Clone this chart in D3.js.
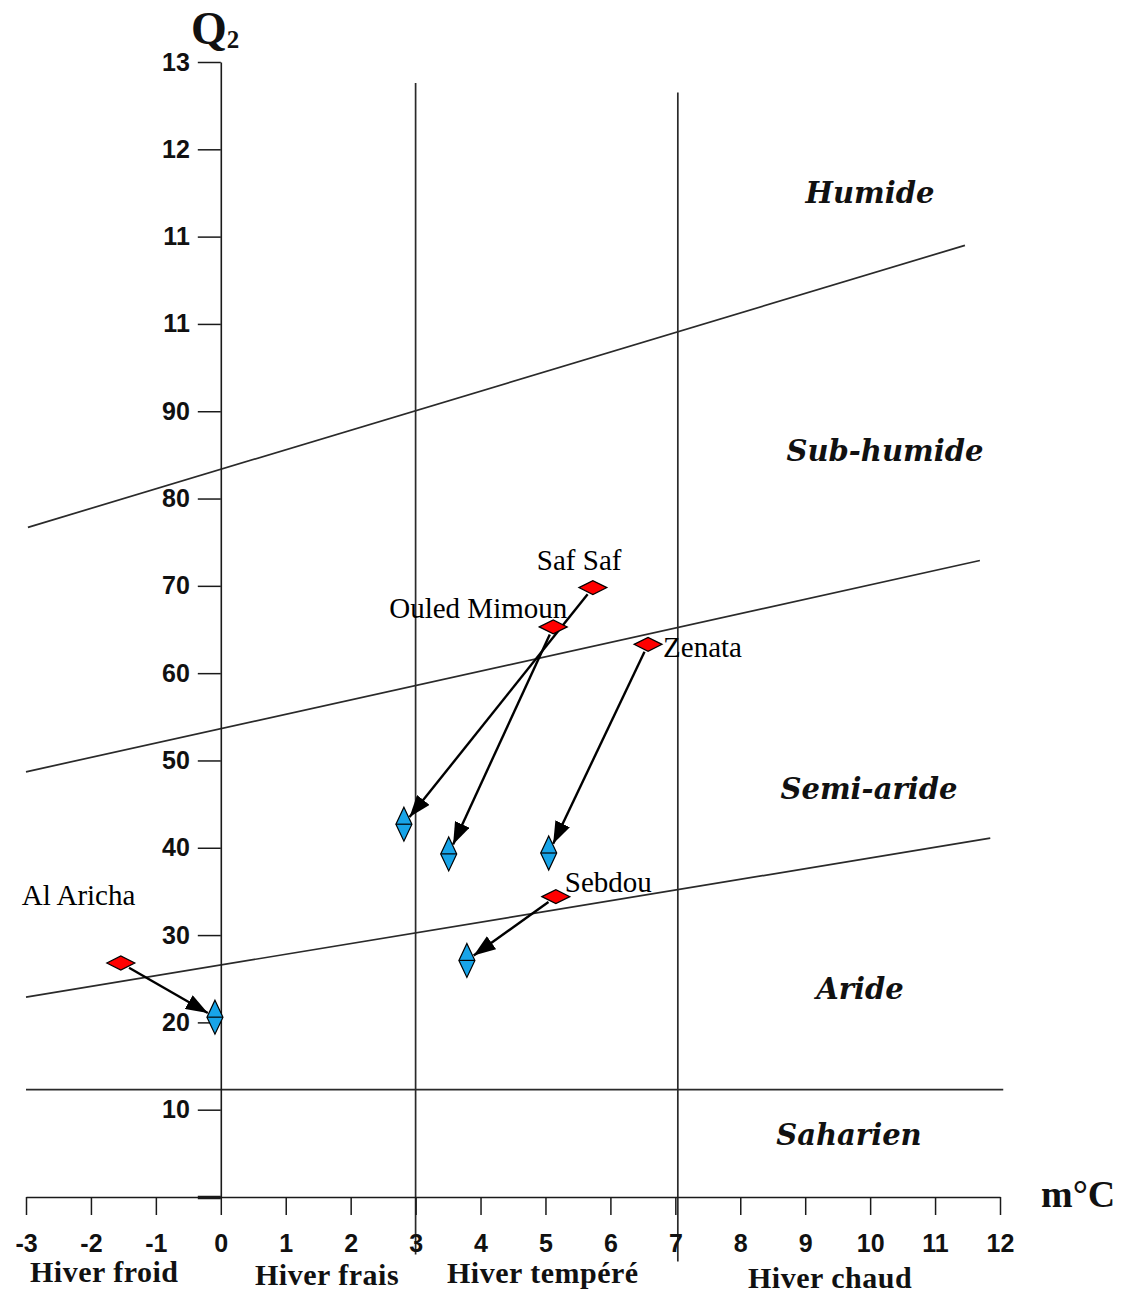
<!DOCTYPE html>
<html>
<head>
<meta charset="utf-8">
<script src="https://cdn.jsdelivr.net/npm/d3@7"></script>
<style>
  html, body { margin: 0; padding: 0; background: #fff; }
  svg { display: block; }
</style>
</head>
<body>
<svg id="chart" width="1123" height="1293"></svg>
<script>
// Emberger climagram: Q2 against m (mean minimum of the coldest month)
const xTickValues = [-3, -2, -1, 0, 1, 2, 3, 4, 5, 6, 7, 8, 9, 10, 11, 12];
const yTickValues = [130, 120, 110, 100, 90, 80, 70, 60, 50, 40, 30, 20, 10, 0];
const yTickLabels = ["13", "12", "11", "11", "90", "80", "70", "60", "50", "40", "30", "20", "10", ""];

// Stations: old period (red) and recent period (blue)
const stations = ["Saf Saf", "Ouled Mimoun", "Zenata", "Sebdou", "Al Aricha"];
const mOld  = [5.73, 5.12, 6.58, 5.16, -1.54];
const q2Old = [69.8, 65.3, 63.3, 34.4, 26.8];
const mNew  = [2.82, 3.51, 5.05, 3.79, -0.09];
const q2New = [42.7, 39.3, 39.4, 27.1, 20.6];

// Bioclimatic boundaries (straight lines between two end points)
const boundaryM0  = [-2.97, -3.0, -3.0];
const boundaryQ0  = [76.7, 48.7, 22.9];
const boundaryM1  = [11.46, 11.69, 11.85];
const boundaryQ1  = [109.0, 72.9, 41.1];
const saharienQ2  = 12.3;

// Winter type limits on m
const winterLimits = [3, 7];

const zones = ["Humide", "Sub-humide", "Semi-aride", "Aride", "Saharien"];
const winters = ["Hiver froid", "Hiver frais", "Hiver tempéré", "Hiver chaud"];

const svg = d3.select("#chart");
const x = d3.scaleLinear().domain([-3, 12]).range([26, 1000]);
const y = d3.scaleLinear().domain([0, 130]).range([1197, 62]);

const ink = "#1a1a1a";

// Boundary lines
const lineG = svg.append("g").attr("fill", "none").attr("stroke", "#2a2a2a").attr("stroke-width", 1.7);
boundaryM0.forEach((m0, i) => {
  lineG.append("line")
    .attr("x1", x(m0)).attr("y1", y(boundaryQ0[i]))
    .attr("x2", x(boundaryM1[i])).attr("y2", y(boundaryQ1[i]));
});
lineG.append("line")
  .attr("x1", x(-3)).attr("y1", y(saharienQ2))
  .attr("x2", x(12.05)).attr("y2", y(saharienQ2));

// Vertical winter limits
const limitSpan = [[127.6, -6.6], [126.5, -7.4]];
winterLimits.forEach((m, i) => {
  lineG.append("line")
    .attr("x1", x(m) + (i === 1 ? 2.5 : 0)).attr("x2", x(m) + (i === 1 ? 2.5 : 0))
    .attr("y1", y(limitSpan[i][0])).attr("y2", y(limitSpan[i][1]));
});

// Y axis
const yAxis = d3.axisLeft(y)
  .tickValues(yTickValues)
  .tickFormat((d, i) => yTickLabels[i])
  .tickSize(23)
  .tickSizeOuter(0)
  .tickPadding(8);
const yg = svg.append("g").attr("transform", `translate(${x(0)},0)`).call(yAxis);
yg.select(".domain").attr("stroke", ink).attr("stroke-width", 1.6);
yg.selectAll(".tick line").attr("stroke", ink).attr("stroke-width", 1.5);
yg.selectAll(".tick").filter(d => d === 0).select("line").attr("stroke-width", 3.5);
yg.selectAll(".tick text")
  .attr("fill", "#111")
  .style("font-family", "'Liberation Sans', Arial, sans-serif")
  .style("font-weight", "bold")
  .style("font-size", "25px");

// X axis
const xAxis = d3.axisBottom(x)
  .tickValues(xTickValues)
  .tickFormat(d3.format("d"))
  .tickSize(18)
  .tickSizeOuter(0)
  .tickPadding(19);
const xg = svg.append("g").attr("transform", `translate(0,${y(0)})`).call(xAxis);
xg.select(".domain").attr("stroke", ink).attr("stroke-width", 1.6);
xg.selectAll(".tick line").attr("stroke", ink).attr("stroke-width", 1.5);
xg.selectAll(".tick text")
  .attr("fill", "#111")
  .style("font-family", "'Liberation Sans', Arial, sans-serif")
  .style("font-weight", "bold")
  .style("font-size", "25px")
  .text(d => String(d).replace("\u2212", "-"));

// Axis titles
const q = svg.append("text")
  .attr("x", 191).attr("y", 44)
  .style("font-family", "'Liberation Serif', 'Times New Roman', serif")
  .style("font-weight", "bold")
  .style("font-size", "46px")
  .attr("fill", "#111");
q.append("tspan").text("Q");
q.append("tspan").attr("dy", 4).style("font-size", "25px").text("2");

svg.append("text")
  .attr("x", 1041).attr("y", 1207)
  .style("font-family", "'Liberation Serif', 'Times New Roman', serif")
  .style("font-weight", "bold")
  .style("font-size", "38px")
  .attr("fill", "#111")
  .text("m°C");

// Zone names
const zonePos = [[870, 203], [885, 461], [869, 799], [860, 999], [849, 1145]];
svg.append("g").selectAll("text").data(zones).join("text")
  .attr("x", (d, i) => zonePos[i][0])
  .attr("y", (d, i) => zonePos[i][1])
  .attr("text-anchor", "middle")
  .style("font-family", "'DejaVu Serif', serif")
  .style("font-weight", "bold")
  .style("font-style", "italic")
  .style("font-size", "29px")
  .attr("fill", "#111")
  .text(d => d);

// Winter types
const winterPos = [[30, 1282], [255, 1285], [447, 1283], [748, 1288]];
svg.append("g").selectAll("text").data(winters).join("text")
  .attr("x", (d, i) => winterPos[i][0])
  .attr("y", (d, i) => winterPos[i][1])
  .style("font-family", "'Liberation Serif', 'Times New Roman', serif")
  .style("font-weight", "bold")
  .style("font-size", "30px")
  .style("letter-spacing", "0.5px")
  .attr("fill", "#111")
  .text(d => d);

// Arrow marker
svg.append("defs").append("marker")
  .attr("id", "arrow")
  .attr("markerUnits", "userSpaceOnUse")
  .attr("viewBox", "0 0 22 16")
  .attr("refX", 22).attr("refY", 8)
  .attr("markerWidth", 22).attr("markerHeight", 16)
  .attr("orient", "auto")
  .append("path").attr("d", "M0,0 L22,8 L0,16 Z").attr("fill", "#000");

// Distance from a diamond centre to its edge along a unit direction
function edge(ux, uy, hw, hh) {
  return 1 / (Math.abs(ux) / hw + Math.abs(uy) / hh);
}

const pts = stations.map((s, i) => ({
  name: s,
  x0: x(mOld[i]), y0: y(q2Old[i]),
  x1: x(mNew[i]), y1: y(q2New[i])
}));

// Arrows from old to recent position
svg.append("g").selectAll("line").data(pts).join("line")
  .each(function (d) {
    const dx = d.x1 - d.x0, dy = d.y1 - d.y0;
    const len = Math.hypot(dx, dy);
    const ux = dx / len, uy = dy / len;
    const s = edge(ux, uy, 14, 7) + 2;
    const e = edge(ux, uy, 8, 17) + 1;
    d3.select(this)
      .attr("x1", d.x0 + ux * s).attr("y1", d.y0 + uy * s)
      .attr("x2", d.x1 - ux * e).attr("y2", d.y1 - uy * e);
  })
  .attr("stroke", "#000")
  .attr("stroke-width", 2.4)
  .attr("marker-end", "url(#arrow)");

// Recent period: blue double triangles
const blue = svg.append("g").selectAll("g").data(pts).join("g")
  .attr("transform", d => `translate(${d.x1},${d.y1})`);
blue.append("path")
  .attr("d", "M0,-17 L8,0 L0,17 L-8,0 Z")
  .attr("fill", "#18a4e8")
  .attr("stroke", "#000")
  .attr("stroke-width", 1.2);
blue.append("line")
  .attr("x1", -8).attr("x2", 8)
  .attr("stroke", "#000").attr("stroke-width", 1.2);

// Old period: red diamonds
svg.append("g").selectAll("path").data(pts).join("path")
  .attr("transform", d => `translate(${d.x0},${d.y0})`)
  .attr("d", "M-14,0 L0,-7 L14,0 L0,7 Z")
  .attr("fill", "#ff0000")
  .attr("stroke", "#000")
  .attr("stroke-width", 1.2);

// Station names
const labelOff = [[-56, -18, "start"], [14, -9, "end"], [15, 13, "start"], [9, -5, "start"], [-99, -58, "start"]];
svg.append("g").selectAll("text").data(pts).join("text")
  .attr("x", (d, i) => d.x0 + labelOff[i][0])
  .attr("y", (d, i) => d.y0 + labelOff[i][1])
  .attr("text-anchor", (d, i) => labelOff[i][2])
  .style("font-family", "'Liberation Serif', 'Times New Roman', serif")
  .style("font-size", "29px")
  .attr("fill", "#000")
  .text(d => d.name);
</script>
</body>
</html>
